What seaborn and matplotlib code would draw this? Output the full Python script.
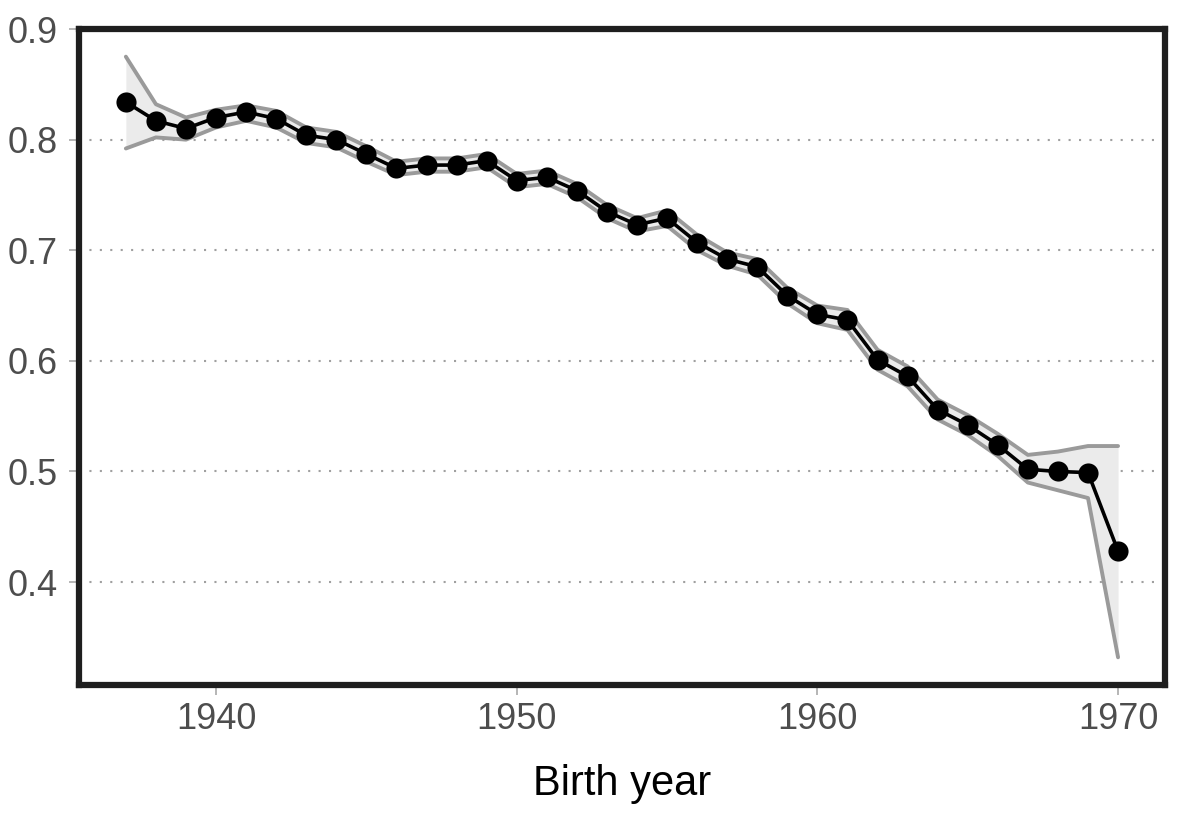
import numpy as np
import pandas as pd
import matplotlib
matplotlib.use("Agg")
import matplotlib.pyplot as plt
import seaborn as sns

years = list(range(1937, 1971))
share = [0.834, 0.817, 0.810, 0.820, 0.825, 0.819, 0.804, 0.800, 0.787, 0.774,
         0.777, 0.777, 0.781, 0.763, 0.766, 0.754, 0.735, 0.723, 0.729, 0.707,
         0.692, 0.685, 0.659, 0.642, 0.637, 0.601, 0.586, 0.556, 0.542, 0.524,
         0.502, 0.500, 0.499, 0.428]
lower = [0.792, 0.802, 0.800, 0.811, 0.817, 0.811, 0.797, 0.793, 0.780, 0.768,
         0.771, 0.771, 0.775, 0.757, 0.760, 0.748, 0.729, 0.717, 0.722, 0.700,
         0.686, 0.678, 0.652, 0.634, 0.628, 0.592, 0.577, 0.547, 0.533, 0.514,
         0.490, 0.483, 0.476, 0.332]
upper = [0.875, 0.832, 0.820, 0.827, 0.831, 0.826, 0.811, 0.807, 0.794, 0.780,
         0.783, 0.783, 0.787, 0.769, 0.772, 0.760, 0.741, 0.729, 0.736, 0.714,
         0.698, 0.692, 0.666, 0.650, 0.646, 0.610, 0.595, 0.565, 0.551, 0.534,
         0.515, 0.518, 0.523, 0.523]

df = pd.DataFrame({"year": years, "share": share, "lo": lower, "hi": upper})

sns.set_style("white")
plt.rcParams['font.family'] = ['Liberation Sans', 'DejaVu Sans']

fig = plt.figure(figsize=(12, 8.22), dpi=100)
ax = fig.add_axes([0.0658, 0.1667, 0.905, 0.798])

# confidence band
ax.fill_between(df["year"], df["lo"], df["hi"], color="#ebebeb", lw=0, zorder=1)
sns.lineplot(data=df, x="year", y="lo", color="#9a9a9a", lw=2.8, ax=ax, zorder=2)
sns.lineplot(data=df, x="year", y="hi", color="#9a9a9a", lw=2.8, ax=ax, zorder=2)
sns.lineplot(data=df, x="year", y="share", color="black", lw=2.6, marker="o",
             markersize=14.5, markeredgewidth=0, ax=ax, zorder=3)

ax.set_xlim(1935.44, 1971.56)
ax.set_ylim(0.307, 0.9)
ax.set_xticks([1940, 1950, 1960, 1970])
ax.set_yticks([0.4, 0.5, 0.6, 0.7, 0.8, 0.9])
ax.set_yticklabels(["0.4", "0.5", "0.6", "0.7", "0.8", "0.9"])
ax.yaxis.grid(True, linestyle=(0, (1, 4)), color="#a0a0a0", lw=1.5)
ax.xaxis.grid(False)
ax.set_axisbelow(True)

for sp in ax.spines.values():
    sp.set_visible(True)
    sp.set_color("#1e1e1e")
    sp.set_linewidth(4.5)

ax.tick_params(axis="both", which="major", direction="out", length=7, width=1.3,
               color="#b0b0b0", labelcolor="#4d4d4d", labelsize=26, pad=5)
ax.tick_params(axis="y", pad=8)
ax.tick_params(axis="both", bottom=True, left=True)

ax.set_ylabel("")
ax.set_xlabel("Birth year", fontsize=30, color="black", labelpad=20)

fig.savefig("out.png", dpi=100)
